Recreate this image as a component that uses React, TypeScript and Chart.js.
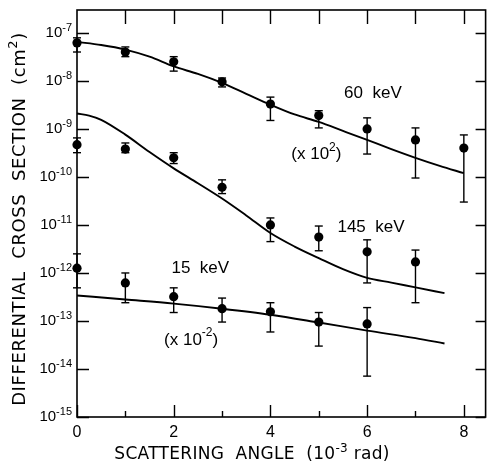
import React, { useEffect, useRef } from "react";
import { Chart, registerables } from "chart.js";

Chart.register(...registerables);

const FONT = "'Liberation Sans', Arial, sans-serif";
const TFONT = "'DejaVu Sans', sans-serif";

// ---- Data ----
const angles = [0, 1, 2, 3, 4, 5, 6, 7, 8];
const xTickValues = [0, 1, 2, 3, 4, 5, 6, 7, 8];
const yTickExponents = [-15, -14, -13, -12, -11, -10, -9, -8, -7];

// 60 keV (x 10^2)
const kev60Y = [6.2e-8, 4.0e-8, 2.5e-8, 9.6e-9, 3.3e-9, 1.9e-9, 1.0e-9, 5.9e-10, 4.0e-10];
const kev60Hi = [7.9e-8, 5.1e-8, 3.2e-8, 1.15e-8, 4.6e-9, 2.4e-9, 1.7e-9, 1.05e-9, 7.5e-10];
const kev60Lo = [4.0e-8, 3.2e-8, 1.6e-8, 7.5e-9, 1.5e-9, 1.05e-9, 3.0e-10, 9.5e-11, 3.0e-11];

// 145 keV
const kev145X = [0, 1, 2, 3, 4, 5, 6, 7];
const kev145Y = [4.7e-10, 3.8e-10, 2.5e-10, 6.1e-11, 1.0e-11, 5.6e-12, 2.75e-12, 1.7e-12];
const kev145Hi = [6.5e-10, 5.1e-10, 3.2e-10, 8.7e-11, 1.4e-11, 9.5e-12, 4.9e-12, 3.0e-12];
const kev145Lo = [3.2e-10, 3.2e-10, 1.9e-10, 4.5e-11, 4.5e-12, 2.9e-12, 6.2e-13, 2.4e-13];

// 15 keV (x 10^-2)
const kev15X = [0, 1, 2, 3, 4, 5, 6];
const kev15Y = [1.26e-12, 6.2e-13, 3.2e-13, 1.8e-13, 1.55e-13, 9.5e-14, 8.7e-14];
const kev15Hi = [2.5e-12, 1.0e-12, 4.9e-13, 3.0e-13, 2.4e-13, 1.5e-13, 1.9e-13];
const kev15Lo = [4.9e-13, 2.4e-13, 1.5e-13, 9.5e-14, 5.9e-14, 3.0e-14, 7.1e-15];

// theory curves
const curve60X = [0, 0.5, 1, 1.5, 2, 2.5, 3, 3.5, 4, 4.5, 5, 5.5, 6, 6.5, 7, 7.5, 8];
const curve60Y = [6.5e-8, 5.6e-8, 4.5e-8, 3.2e-8, 2.0e-8, 1.4e-8, 9.1e-9, 5.4e-9, 3.2e-9, 2.0e-9, 1.4e-9, 9.1e-10, 5.9e-10, 3.8e-10, 2.5e-10, 1.7e-10, 1.2e-10];

const curve145X = [0, 0.25, 0.5, 1, 1.5, 2, 2.5, 3, 3.5, 4, 4.5, 5, 5.5, 6, 6.5, 7, 7.6];
const curve145Y = [2.09e-9, 1.9e-9, 1.55e-9, 7.6e-10, 3.3e-10, 1.51e-10, 7.4e-11, 3.55e-11, 1.58e-11, 6.8e-12, 3.55e-12, 2.04e-12, 1.2e-12, 7.9e-13, 6.3e-13, 5.0e-13, 3.8e-13];

const curve15X = [0, 1, 2, 3, 4, 5, 6, 7, 7.6];
const curve15Y = [3.4e-13, 2.8e-13, 2.3e-13, 1.8e-13, 1.35e-13, 9.3e-14, 6.3e-14, 4.4e-14, 3.4e-14];

const xTitleParts: Part[] = [["SCATTERING  ANGLE  (10", false], ["-3", true], [" rad)", false]];
const yTitleParts: Part[] = [["DIFFERENTIAL  CROSS  SECTION  (cm", false], ["2", true], [")", false]];

function pts(xs: number[], ys: number[]) {
  return xs.map((x, i) => ({ x, y: ys[i] }));
}
function errPts(xs: number[], lo: number[], hi: number[]) {
  const out: { x: number; y: number | null }[] = [];
  xs.forEach((x, i) => {
    out.push({ x, y: lo[i] });
    out.push({ x, y: hi[i] });
    out.push({ x, y: null });
  });
  return out;
}

// Annotation: parts of [text, isSuperscript]
type Part = [string, boolean];
const annotations: { parts: Part[]; x: number; y: number }[] = [
  { parts: [["60  keV", false]], x: 6.12, y: 5.6e-9 },
  { parts: [["(x 10", false], ["2", true], [")", false]], x: 4.95, y: 2.9e-10 },
  { parts: [["145  keV", false]], x: 6.08, y: 9.1e-12 },
  { parts: [["15  keV", false]], x: 2.55, y: 1.26e-12 },
  { parts: [["(x 10", false], ["-2", true], [")", false]], x: 2.36, y: 4.0e-14 },
];

// draws a run of text with superscripts; align: 'center' | 'right'
function drawRich(
  ctx: CanvasRenderingContext2D,
  parts: Part[],
  x: number,
  y: number,
  family: string,
  size: number,
  supSize: number,
  supRaise: number,
  align: "center" | "right",
  spacing = 0
) {
  (ctx as any).letterSpacing = `${spacing}px`;
  const widths = parts.map(([t, s]) => {
    ctx.font = `${s ? supSize : size}px ${family}`;
    return ctx.measureText(t).width;
  });
  const total = widths.reduce((p, c) => p + c, 0);
  let cx = align === "center" ? x - total / 2 : x - total;
  parts.forEach(([t, s], i) => {
    ctx.font = `${s ? supSize : size}px ${family}`;
    ctx.fillText(t, cx, s ? y - supRaise : y);
    cx += widths[i];
  });
  (ctx as any).letterSpacing = "0px";
}

const framePlugin = {
  id: "frameTicks",
  afterDatasetsDraw(chart: any) {
    const { ctx, chartArea: a, scales } = chart;
    const xs = scales.x;
    const ys = scales.y;
    ctx.save();
    ctx.strokeStyle = "#000";
    ctx.lineWidth = 1.6;
    ctx.strokeRect(a.left, a.top, a.right - a.left, a.bottom - a.top);
    ctx.lineWidth = 1.4;
    ctx.beginPath();
    xTickValues.forEach((v) => {
      const px = Math.round(xs.getPixelForValue(v)) + 0.5;
      const lenB = v % 2 === 0 ? 12 : 6;
      ctx.moveTo(px, a.bottom);
      ctx.lineTo(px, a.bottom - lenB);
      if (v > 0) {
        ctx.moveTo(px, a.top);
        ctx.lineTo(px, a.top + 14);
      }
    });
    yTickExponents.forEach((e) => {
      const py = Math.round(ys.getPixelForValue(Number(`1e${e}`))) + 0.5;
      ctx.moveTo(a.left, py);
      ctx.lineTo(a.left + 12, py);
      ctx.moveTo(a.right, py);
      ctx.lineTo(a.right - 10, py);
    });
    ctx.stroke();

    ctx.fillStyle = "#000";
    ctx.textBaseline = "middle";
    ctx.textAlign = "left";

    // y tick labels from the scale's ticks
    ys.ticks.forEach((t: any) => {
      const e = Math.round(Math.log10(t.value));
      const py = ys.getPixelForValue(t.value);
      drawRich(ctx, [["10", false], [String(e), true]], a.left - 5, py, FONT, 15, 11, 5, "right");
    });

    // axis titles
    drawRich(ctx, xTitleParts, 252, 455, TFONT, 17, 12, 6, "center", 0.3);
    ctx.save();
    ctx.translate(20, 219);
    ctx.rotate(-Math.PI / 2);
    drawRich(ctx, yTitleParts, 0, 0, TFONT, 18, 13, 6, "center", 0.6);
    ctx.restore();

    // annotations
    annotations.forEach((an) => {
      const cx = xs.getPixelForValue(an.x);
      const cy = ys.getPixelForValue(an.y);
      drawRich(ctx, an.parts, cx, cy, FONT, 17, 12, 7, "center");
    });
    ctx.restore();
  },
};

export default function App() {
  const ref = useRef<HTMLCanvasElement | null>(null);
  useEffect(() => {
    if (!ref.current) return;
    const black = "#000";
    const curveDs = (xs: number[], ys: number[]) => ({
      data: pts(xs, ys),
      showLine: true,
      borderColor: black,
      borderWidth: 1.9,
      pointRadius: 0,
      cubicInterpolationMode: "monotone" as const,
      clip: false as const,
    });
    const markDs = (xs: number[], ys: number[]) => ({
      data: pts(xs, ys),
      showLine: false,
      pointRadius: 4.6,
      pointBackgroundColor: black,
      pointBorderColor: black,
      pointBorderWidth: 0,
      clip: false as const,
    });
    const errDs = (xs: number[], lo: number[], hi: number[]) => ({
      data: errPts(xs, lo, hi),
      showLine: true,
      spanGaps: false,
      borderColor: black,
      borderWidth: 1.4,
      pointStyle: "line" as const,
      pointRadius: 4,
      pointBorderColor: black,
      pointBorderWidth: 1.4,
      clip: false as const,
    });
    const chart = new Chart(ref.current, {
      type: "scatter",
      data: {
        datasets: [
          curveDs(curve60X, curve60Y),
          curveDs(curve145X, curve145Y),
          curveDs(curve15X, curve15Y),
          errDs(angles, kev60Lo, kev60Hi),
          errDs(kev145X, kev145Lo, kev145Hi),
          errDs(kev15X, kev15Lo, kev15Hi),
          markDs(angles, kev60Y),
          markDs(kev145X, kev145Y),
          markDs(kev15X, kev15Y),
        ] as any,
      },
      options: {
        animation: false,
        responsive: false,
        devicePixelRatio: 1,
        layout: { padding: { top: 10, right: 2, left: 0, bottom: 0 } },
        plugins: { legend: { display: false }, tooltip: { enabled: false } },
        scales: {
          x: {
            type: "linear",
            min: 0,
            max: 8.45,
            afterBuildTicks: (s: any) => {
              s.ticks = xTickValues.map((v) => ({ value: v }));
            },
            afterFit: (s: any) => {
              s.height = 47;
            },
            grid: { display: false, drawTicks: false },
            border: { display: false },
            ticks: {
              autoSkip: false,
              maxRotation: 0,
              padding: 6,
              color: black,
              font: { family: FONT, size: 16 },
              callback: (v: any) => (Number(v) % 2 === 0 ? String(v) : ""),
            },
            title: { display: false },
          },
          y: {
            type: "logarithmic",
            min: 1e-15,
            max: 3.0e-7,
            afterBuildTicks: (s: any) => {
              s.ticks = yTickExponents.map((e) => ({ value: Number(`1e${e}`) }));
            },
            afterFit: (s: any) => {
              s.width = 77;
            },
            grid: { display: false, drawTicks: false },
            border: { display: false },
            ticks: { display: false },
            title: { display: false },
          },
        },
      } as any,
      plugins: [framePlugin],
    });
    return () => chart.destroy();
  }, []);
  return (
    <div style={{ position: "absolute", left: 0, top: 0, width: 491, height: 464, background: "#fff" }}>
      <canvas ref={ref} width={491} height={464} style={{ display: "block" }} />
    </div>
  );
}
